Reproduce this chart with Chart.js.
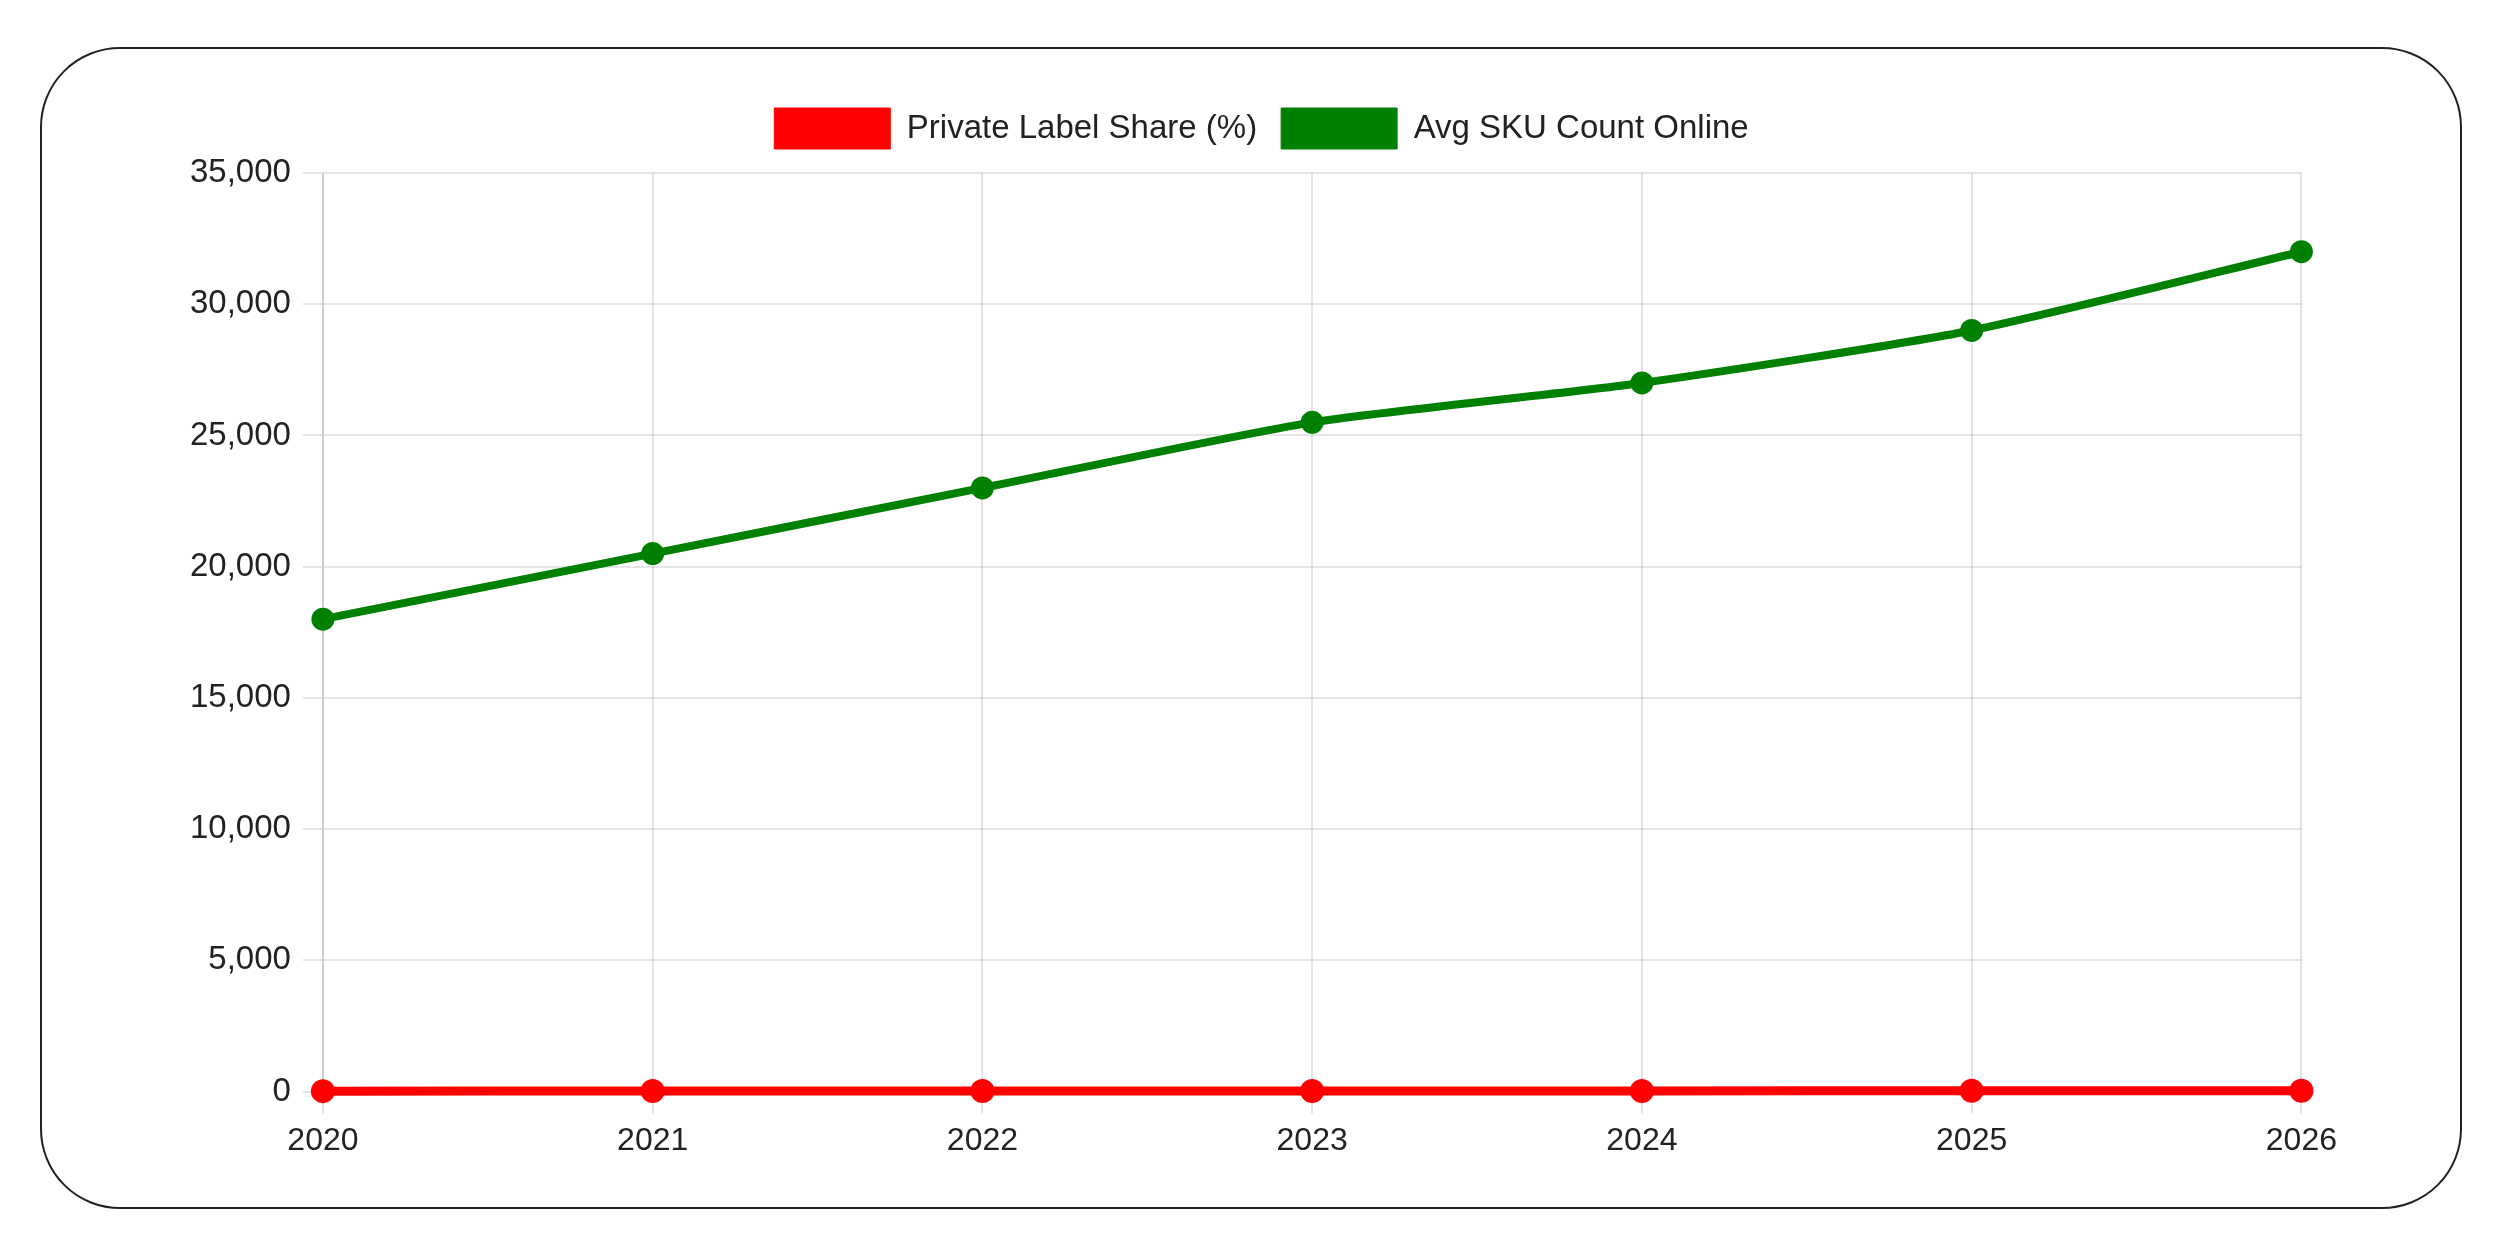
<!DOCTYPE html>
<html>
<head>
<meta charset="utf-8">
<script src="https://cdn.jsdelivr.net/npm/chart.js@4"></script>
<style>
  html, body { margin:0; padding:0; background:#fff; width:2497px; height:1240px; overflow:hidden; }
  #frame { position:absolute; left:40px; top:47px; width:2418px; height:1158px; border:2px solid #222; border-radius:80px; box-sizing:content-box; }
  #wrap { position:absolute; left:138px; top:60px; width:2207px; height:1118px; }
</style>
</head>
<body>
<div id="frame"></div>
<div id="wrap"><canvas id="c" width="2207" height="1118"></canvas></div>
<script>
const years = ['2020','2021','2022','2023','2024','2025','2026'];
const privateLabelShare = [18, 20, 23, 25, 27, 29, 32];
const avgSkuCount = [18000, 20500, 23000, 25500, 27000, 29000, 32000];
const yMin = 0, yMax = 35000, yStep = 5000;

const FONT = "'Liberation Sans', Arial, sans-serif";

const legendMargin = {
  id: 'legendMargin',
  beforeInit(chart) {
    const orig = chart.legend.fit;
    chart.legend.fit = function () { orig.call(this); this.height += 14; };
  }
};

new Chart(document.getElementById('c'), {
  type: 'line',
  plugins: [legendMargin],
  data: {
    labels: years,
    datasets: [
      { label: 'Private Label Share (%)', data: privateLabelShare,
        borderColor: '#ff0000', backgroundColor: '#ff0000', clip: false,
        borderWidth: 9, pointRadius: 12, pointHoverRadius: 12, pointBorderWidth: 0, tension: 0.2 },
      { label: 'Avg SKU Count Online', data: avgSkuCount,
        borderColor: '#008000', backgroundColor: '#008000', clip: false,
        borderWidth: 8, pointRadius: 11.5, pointHoverRadius: 11.5, pointBorderWidth: 0, tension: 0.2 }
    ]
  },
  options: {
    responsive: false,
    devicePixelRatio: 1,
    animation: false,
    layout: { padding: { left: 40, top: 24, right: 0, bottom: 10 } },
    plugins: {
      legend: {
        labels: {
          boxWidth: 116, boxHeight: 41, padding: 24, color: '#222',
          font: { family: FONT, size: 33 },
          generateLabels(chart) {
            return Chart.defaults.plugins.legend.labels.generateLabels(chart).map(l => Object.assign(l, { lineWidth: 1 }));
          }
        }
      },
      tooltip: { enabled: false }
    },
    scales: {
      x: {
        grid: { color: 'rgba(0,0,0,0.1)', lineWidth: 2, tickLength: 22 },
        border: { color: 'rgba(0,0,0,0.1)', width: 2 },
        ticks: { color: '#222', padding: 8, font: { family: FONT, size: 32 } }
      },
      y: {
        min: yMin, max: yMax,
        grid: { color: 'rgba(0,0,0,0.1)', lineWidth: 2, tickLength: 20 },
        border: { color: 'rgba(0,0,0,0.1)', width: 2 },
        ticks: { stepSize: yStep, color: '#222', padding: 12, font: { family: FONT, size: 33 } }
      }
    }
  }
});
</script>
</body>
</html>
